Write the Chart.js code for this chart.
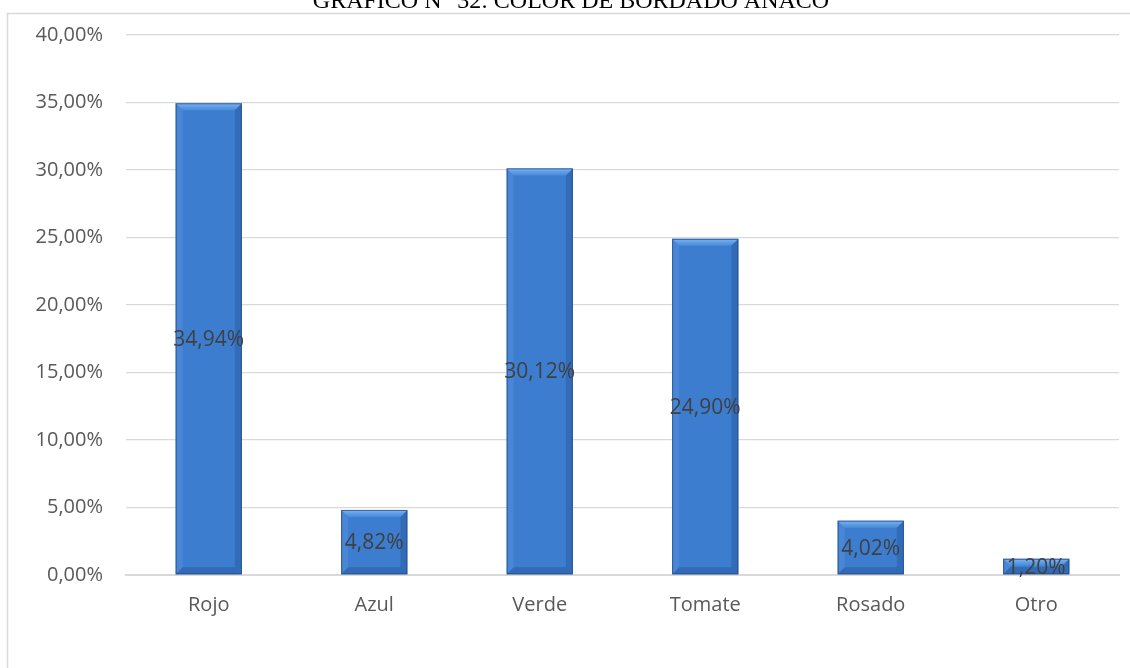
<!DOCTYPE html>
<html>
<head>
<meta charset="utf-8">
<script src="https://cdn.jsdelivr.net/npm/chart.js@4"></script>
<style>
  html, body { margin: 0; padding: 0; background: #fff; }
  canvas { display: block; }
</style>
</head>
<body>
<canvas id="bordadoChart" width="1130" height="668"></canvas>
<script>
const chartTitle = 'GRÁFICO N° 32: COLOR DE BORDADO ANACO';
const categories = ['Rojo', 'Azul', 'Verde', 'Tomate', 'Rosado', 'Otro'];
const percentages = [34.94, 4.82, 30.12, 24.90, 4.02, 1.20];
const yTicks = [0, 5, 10, 15, 20, 25, 30, 35, 40];

function formatPct(v) {
    return v.toFixed(2).replace('.', ',') + '%';
}

// frame around the whole chart plus the title, partly cut off at the top
const framePlugin = {
    id: 'frame',
    beforeDraw(chart) {
        const ctx = chart.ctx;
        ctx.save();
        ctx.fillStyle = '#ffffff';
        ctx.fillRect(0, 0, chart.width, chart.height);
        ctx.strokeStyle = '#d9d9d9';
        ctx.lineWidth = 1.5;
        ctx.strokeRect(7.5, 13.5, chart.width + 20, chart.height + 20);
        ctx.fillStyle = '#000000';
        ctx.font = '24px "Liberation Serif", "Times New Roman", serif';
        ctx.textAlign = 'center';
        ctx.textBaseline = 'alphabetic';
        ctx.fillText(chartTitle, 571, 8);
        ctx.restore();
    }
};

// soft bevel on each bar and value labels centred in the bar
const bevelPlugin = {
    id: 'bevel',
    afterDatasetsDraw(chart) {
        const ctx = chart.ctx;
        const meta = chart.getDatasetMeta(0);
        ctx.save();
        meta.data.forEach(bar => {
            const left = bar.x - bar.width / 2;
            const right = bar.x + bar.width / 2;
            const top = bar.y;
            const bottom = bar.base;
            const b = Math.min(7, (bottom - top) / 2);

            // top bevel
            const gt = ctx.createLinearGradient(0, top, 0, top + b);
            gt.addColorStop(0, 'rgba(140, 195, 250, 0.85)');
            gt.addColorStop(1, 'rgba(95, 160, 235, 0.4)');
            ctx.fillStyle = gt;
            ctx.beginPath();
            ctx.moveTo(left, top);
            ctx.lineTo(right, top);
            ctx.lineTo(right - b, top + b);
            ctx.lineTo(left + b, top + b);
            ctx.closePath();
            ctx.fill();

            // left bevel
            ctx.fillStyle = 'rgba(110, 165, 230, 0.25)';
            ctx.beginPath();
            ctx.moveTo(left, top);
            ctx.lineTo(left + b, top + b);
            ctx.lineTo(left + b, bottom - b);
            ctx.lineTo(left, bottom);
            ctx.closePath();
            ctx.fill();

            // right bevel
            ctx.fillStyle = 'rgba(20, 50, 100, 0.22)';
            ctx.beginPath();
            ctx.moveTo(right, top);
            ctx.lineTo(right - b, top + b);
            ctx.lineTo(right - b, bottom - b);
            ctx.lineTo(right, bottom);
            ctx.closePath();
            ctx.fill();

            // bottom bevel
            ctx.fillStyle = 'rgba(20, 50, 100, 0.25)';
            ctx.beginPath();
            ctx.moveTo(left, bottom);
            ctx.lineTo(right, bottom);
            ctx.lineTo(right - b, bottom - b);
            ctx.lineTo(left + b, bottom - b);
            ctx.closePath();
            ctx.fill();

            ctx.strokeStyle = 'rgba(35, 75, 135, 0.8)';
            ctx.lineWidth = 1;
            ctx.strokeRect(left + 0.5, top + 0.5, bar.width - 1, bottom - top - 1);
        });

        ctx.fillStyle = '#404040';
        ctx.font = '21px "Open Sans", sans-serif';
        ctx.textAlign = 'center';
        ctx.textBaseline = 'middle';
        meta.data.forEach((bar, i) => {
            ctx.fillText(formatPct(percentages[i]), bar.x, (bar.y + bar.base) / 2 + 1);
        });
        ctx.restore();
    }
};

const ctx = document.getElementById('bordadoChart').getContext('2d');

new Chart(ctx, {
    type: 'bar',
    data: {
        labels: categories,
        datasets: [{
            data: percentages,
            backgroundColor: function(context) {
                const el = context.element;
                if (!el || el.width === undefined) return '#3c7dd0';
                const l = el.x - el.width / 2;
                const g = context.chart.ctx.createLinearGradient(l, 0, l + el.width, 0);
                g.addColorStop(0, '#3a78c8');
                g.addColorStop(0.4, '#4288da');
                g.addColorStop(1, '#3670bd');
                return g;
            },
            borderWidth: 0,
            categoryPercentage: 1,
            barPercentage: 0.4
        }]
    },
    options: {
        responsive: false,
        animation: false,
        layout: { padding: { top: 33, right: 11, left: 0, bottom: 0 } },
        plugins: {
            legend: { display: false },
            tooltip: { enabled: false }
        },
        scales: {
            x: {
                grid: { display: false },
                border: { display: true, color: '#d9d9d9', width: 2 },
                ticks: {
                    color: '#595959',
                    font: { family: '"Open Sans", sans-serif', size: 20 },
                    padding: 10
                },
                afterFit(scale) { scale.height = 93; }
            },
            y: {
                min: 0,
                max: 40,
                afterBuildTicks(scale) {
                    scale.ticks = yTicks.map(v => ({ value: v }));
                },
                grid: { color: '#d9d9d9', lineWidth: 1.3, drawTicks: false },
                border: { display: false },
                ticks: {
                    color: '#595959',
                    font: { family: '"Open Sans", sans-serif', size: 20 },
                    padding: 23,
                    callback: v => formatPct(v)
                },
                afterFit(scale) { scale.width = 126; }
            }
        }
    },
    plugins: [framePlugin, bevelPlugin]
});
</script>
</body>
</html>
